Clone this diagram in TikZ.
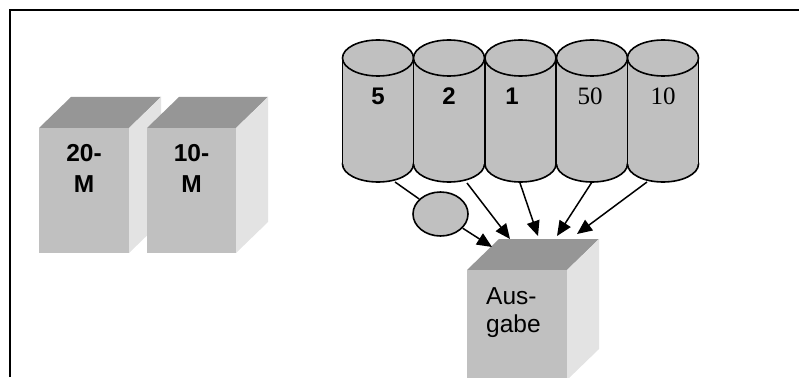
\documentclass[tikz,border=0pt]{standalone}
\usepackage{fontspec}
\setmainfont{Liberation Sans}
\newfontfamily\serifnum{Liberation Serif}
\usetikzlibrary{arrows.meta,shapes.geometric}
\definecolor{frontgray}{HTML}{C0C0C0}
\definecolor{topgray}{HTML}{969696}
\definecolor{sidegray}{HTML}{E3E3E3}
\tikzset{
  frontface/.style={fill=frontgray},
  topface/.style={fill=topgray},
  sideface/.style={fill=sidegray},
  cylbody/.style={fill=frontgray},
  cyledge/.style={draw=black,line width=1.6pt},
  boxlabel/.style={font=\bfseries\fontsize{24.5}{31}\selectfont,align=center,anchor=base,inner sep=0pt},
  cyllabel/.style={font=\bfseries\fontsize{24}{26}\selectfont,anchor=base,inner sep=0pt},
  cyllabelserif/.style={font=\serifnum\fontsize{25}{26}\selectfont,anchor=base,inner sep=0pt},
  outlabel/.style={font=\fontsize{24.5}{28}\selectfont,align=left,anchor=base west,inner sep=0pt},
  conn/.style={line width=1.5pt,draw=black},
  arr/.style={conn,-{Triangle[length=15pt,width=13pt]}},
  coin/.style={ellipse,draw=black,line width=1.6pt,fill=frontgray,minimum width=55pt,minimum height=44pt,inner sep=0pt}
}
\newcommand{\mybox}[5]{% x1 y1 x2 y2 name
  \fill[topface] (#1,#2) -- (#1+32,#2-31) -- (#3+32,#2-31) -- (#3,#2) -- cycle;
  \fill[sideface] (#3,#2) -- (#3+32,#2-31) -- (#3+32,#4-31) -- (#3,#4) -- cycle;
  \fill[frontface] (#1,#2) rectangle (#3,#4);
  \coordinate (#5) at ({(#1+#3)/2+16},#2-31);
}
\newcommand{\mycyl}[2]{% cx name
  \fill[cylbody,cyledge] (#1,164) ellipse [x radius=35.5, y radius=18];
  \fill[cylbody] (#1-35.5,58) rectangle (#1+35.5,164);
  \draw[cyledge] (#1-35.5,58) -- (#1-35.5,164) (#1+35.5,58) -- (#1+35.5,164);
  \fill[cylbody,cyledge] (#1,58) ellipse [x radius=35.5, y radius=18];
}
\begin{document}
\begin{tikzpicture}[x=1pt,y=-1pt]
\useasboundingbox (0,0) rectangle (799,377);
% frame
\draw[line width=2pt] (10,377) -- (10,10) -- (799,10);
% boxes
\mybox{39}{128}{129}{253}{boxA}
\mybox{147}{128}{236}{253}{boxB}
\node[boxlabel] (lblA) at (84,192) {20-\\M};
\node[boxlabel] (lblB) at (191.5,192) {10-\\M};
% cylinders
\mycyl{378}{c1}
\mycyl{449}{c2}
\mycyl{520.5}{c3}
\mycyl{592}{c4}
\mycyl{663}{c5}
\node[cyllabel] (t1) at (378,104) {5};
\node[cyllabel] (t2) at (449,104) {2};
\node[cyllabel] (t3) at (512,104) {1};
\node[cyllabelserif] (t4) at (590,104) {50};
\node[cyllabelserif] (t5) at (663,104) {10};
% output box
\mybox{467}{270}{567}{380}{boxC}
\node[outlabel] (lblC) at (486,332) {Aus-\\gabe};
% coin
\node[coin] (coin) at (440.5,214) {};
% connector endpoints
\coordinate (s1) at (395,182);
\coordinate (s2) at (467,183);
\coordinate (s3) at (520,183);
\coordinate (s4) at (592,182);
\coordinate (s5) at (647,182);
\coordinate (e0) at (492,247);
\coordinate (e2) at (510,239);
\coordinate (e3) at (538,236);
\coordinate (e4) at (557,236);
\coordinate (e5) at (577,234);
\draw[conn] (s1) -- (coin);
\draw[arr] (coin) -- (e0);
\draw[arr] (s2) -- (e2);
\draw[arr] (s3) -- (e3);
\draw[arr] (s4) -- (e4);
\draw[arr] (s5) -- (e5);
\end{tikzpicture}
\end{document}
